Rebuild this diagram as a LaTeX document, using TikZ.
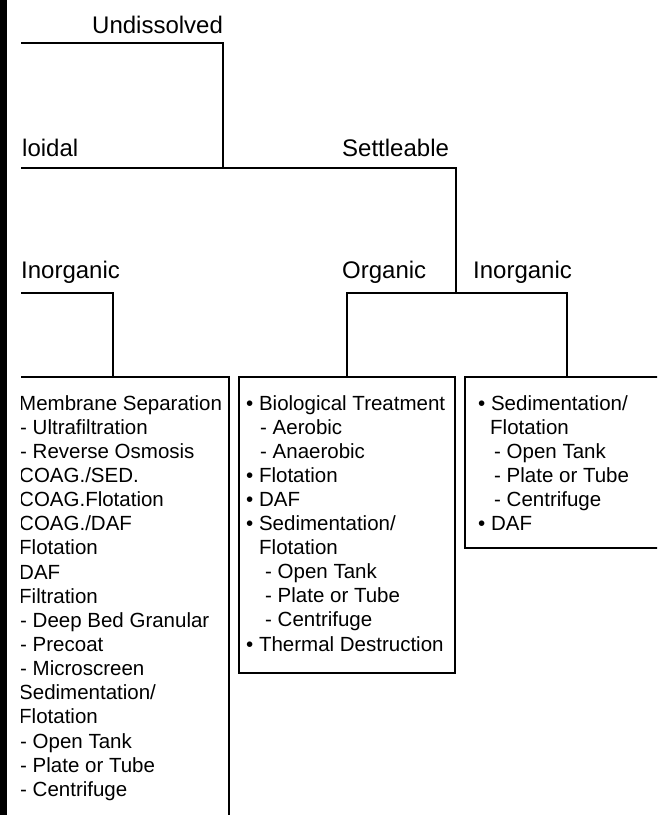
\documentclass[tikz,border=0pt]{standalone}
\usepackage{fontspec}
\setmainfont{Liberation Sans}
\begin{document}
\begin{tikzpicture}[x=1pt,y=-1pt,
  tree/.style={line width=1.8pt},
  box/.style={draw, line width=1.8pt, anchor=north west, inner sep=0pt, outer sep=0pt},
  lab/.style={font=\fontsize{24}{28}\selectfont, inner sep=0pt, anchor=base west},
  item/.style={font=\fontsize{20.5}{24}\selectfont, inner sep=0pt, anchor=base west}]
\useasboundingbox (0,0) rectangle (657,815);
\fill[black] (0,0) rectangle (7,815);
\begin{scope}
\clip (21,0) rectangle (657,815);
% labels
\node[lab] (undiss) at (92,33) {Undissolved};
\node[lab] (coll) at (-14,156) {Colloidal};
\node[lab] (settle) at (342,156) {Settleable};
\node[lab] (cinorg) at (21,278) {Inorganic};
\node[lab] (sorg) at (342,278) {Organic};
\node[lab] (sinorg) at (473,278) {Inorganic};
% boxes
\node[box, minimum width=224pt, minimum height=463pt] (cbox) at (5,377) {};
\node[box, minimum width=216pt, minimum height=296pt] (mbox) at (239,377) {};
\node[box, minimum width=215pt, minimum height=171pt] (rbox) at (465,377) {};
% junctions and free ends
\coordinate (uL) at (0,43);
\coordinate (cL) at (0,168);
\coordinate (uj) at (223,168);
\coordinate (sj) at (456,293);
\coordinate (cL2) at (0,293);
% connectors
\draw[tree] (uL) -| (uj);
\draw[tree] (cL) -- (uj) -| (sj);
\draw[tree] (cL2) -| ([xshift=-4pt]cbox.north);
\draw[tree] (mbox.north) |- (sj);
\draw[tree] ([xshift=-5.5pt]rbox.north) |- (sj);
% left box items
\foreach \xx/\t [count=\i from 0] in {
  19/{Membrane Separation}, 20/{- Ultrafiltration}, 20/{- Reverse Osmosis},
  19/{COAG./SED.}, 19/{COAG.Flotation}, 19/{COAG./DAF}, 19/{Flotation}, 19/{DAF},
  19/{Filtration}, 20/{- Deep Bed Granular}, 20/{- Precoat}, 20/{- Microscreen},
  19/{Sedimentation/}, 19/{Flotation}, 20/{- Open Tank}, 20/{- Plate or Tube},
  20/{- Centrifuge}}
  \node[item] (L\i) at (\xx, 410+24.15*\i) {\t};
% middle box items
\foreach \xx/\t [count=\i from 0] in {
  246/{• Biological Treatment}, 260/{- Aerobic}, 260/{- Anaerobic},
  246/{• Flotation}, 246/{• DAF}, 246/{• Sedimentation/}, 259/{Flotation},
  265/{- Open Tank}, 265/{- Plate or Tube}, 265/{- Centrifuge},
  246/{• Thermal Destruction}}
  \node[item] (M\i) at (\xx, 410+24.1*\i) {\t};
% right box items
\foreach \xx/\t [count=\i from 0] in {
  478/{• Sedimentation/}, 490/{Flotation}, 494/{- Open Tank},
  494/{- Plate or Tube}, 494/{- Centrifuge}, 478/{• DAF}}
  \node[item] (R\i) at (\xx, 410+24*\i) {\t};
\end{scope}
\end{tikzpicture}
\end{document}
